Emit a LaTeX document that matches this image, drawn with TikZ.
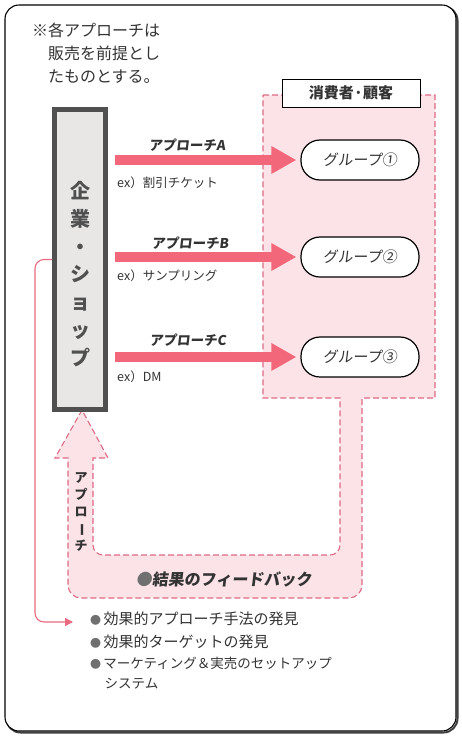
\documentclass[tikz,border=0pt]{standalone}
\usepackage{fontspec}
\usepackage{graphicx}
\setmainfont{Noto Sans CJK JP}
\newfontfamily\jpsl{Noto Sans CJK JP}[FakeSlant=0.12]
\usetikzlibrary{arrows.meta,calc}
\definecolor{arrowpink}{HTML}{F2687A}
\definecolor{bandfill}{HTML}{FBE3E7}
\definecolor{banddash}{HTML}{DE6A86}
\definecolor{thinpink}{HTML}{EA6A80}
\definecolor{cofill}{HTML}{E9E7E5}
\definecolor{coline}{HTML}{505050}
\definecolor{txt}{HTML}{333333}
\definecolor{bulletgrey}{HTML}{707070}
\newcommand{\fs}[2]{\fontsize{#1}{#2}\selectfont}
\newcommand{\vbar}{\rotatebox[origin=c]{-90}{ー}}
\begin{document}
\begin{tikzpicture}[x=1pt,y=-1pt,
  frame/.style={draw=black, line width=1.1pt, fill=white, rounded corners=14pt},
  band/.style={fill=bandfill, draw=banddash, line width=1.1pt, dash pattern=on 6pt off 3pt},
  cobox/.style={draw=coline, line width=5pt, fill=cofill, minimum width=51pt, minimum height=300pt, inner sep=0pt},
  pill/.style={draw=black, line width=1.2pt, fill=white, rounded corners=19pt, minimum width=118pt, minimum height=40pt, inner sep=0pt, font=\jpsl\fs{15}{18}, text=txt},
  titlebox/.style={draw=black, line width=1pt, fill=white, minimum width=138pt, minimum height=28pt, inner sep=0pt, font=\bfseries\fs{15}{18}, text=txt},
  bigarrow/.style={line width=10pt, draw=arrowpink, -{Triangle[length=25pt,width=26pt]}},
  alabel/.style={font=\jpsl\bfseries\fs{13.5}{16}, text=txt, inner sep=0pt},
  exlabel/.style={font=\fs{12.5}{15}, text=txt, inner sep=0pt, anchor=west},
  listline/.style={text=txt, inner sep=0pt, anchor=west},
  thinarrow/.style={draw=thinpink, line width=1.1pt, rounded corners=9pt, -{Triangle[length=8pt,width=8pt]}}
]
\useasboundingbox (0,0) rectangle (462,737);
\fill[white] (0,0) rectangle (462,737);
% outer frame with slight shadow
\draw[line width=2pt, draw=black!75, rounded corners=14pt] (6.5,6.5) rectangle (457.5,732.5);
\draw[frame] (5,5) rectangle (456,731);

% consumer area + feedback band
\path[band] (263,95) -- (435,95) -- (435,398) -- (362,398) -- (362,450)
  [rounded corners=13pt] -- (362,598) -- (68,598) -- (68,520)
  [sharp corners] -- (68,458) -- (55,458) -- (82,410) -- (108,458) -- (93,458) -- (93,500)
  [rounded corners=10pt] -- (93,555) -- (340,555) -- (340,470)
  [sharp corners] -- (340,398) -- (263,398) -- cycle;

% note
\node[anchor=north west, align=left, inner sep=0pt, font=\fs{16}{23}, text=txt] (note) at (32,23)
  {※各アプローチは\\\hspace{1em}販売を前提とし\\\hspace{1em}たものとする。};

% company box
\node[cobox] (co) at (80,259.5) {};
\node[align=center, inner sep=0pt, font=\bfseries\fs{20}{27.8}, text=coline] (cotext) at (80,274)
  {企\\業\\・\\シ\\ョ\\ッ\\プ};

% consumer title
\node[titlebox] (cons) at (351,93) {消費者·顧客};

% groups
\node[pill] (g1) at (360,160) {グループ①};
\node[pill] (g2) at (360,257) {グループ②};
\node[pill] (g3) at (360,357) {グループ③};

% approach arrows
\draw[bigarrow] ($(co.east |- g1)+(7,0)$) -- ($(g1.west)+(-4,0)$);
\draw[bigarrow] ($(co.east |- g2)+(7,0)$) -- ($(g2.west)+(-4,0)$);
\draw[bigarrow] ($(co.east |- g3)+(7,0)$) -- ($(g3.west)+(-4,0)$);

\node[alabel] (la) at (187,145) {アプローチA};
\node[exlabel] (ea) at (117,183) {ex）割引チケット};
\node[alabel] (lb) at (190,243) {アプローチB};
\node[exlabel] (eb) at (117,276) {ex）サンプリング};
\node[alabel] (lc) at (188,340) {アプローチC};
\node[exlabel] (ec) at (117,377) {ex）DM};

% feedback labels
\node[align=center, inner sep=0pt, font=\bfseries\fs{13}{17}, text=txt] (vapp) at (81,512)
  {ア\\プ\\ロ\\\vbar\\チ};
\node[inner sep=0pt, font=\jpsl\bfseries\fs{16}{19}, text=txt] (fb) at (224,579)
  {{\color{bulletgrey}●}結果のフィードバック};

% results list
\coordinate (fbend) at (73,622);
\node[listline, font=\fs{15}{18}] (r1) at (90,619) {{\color{bulletgrey}\fs{11}{18}●}\,効果的アプローチ手法の発見};
\node[listline, font=\fs{15}{18}] (r2) at (90,642) {{\color{bulletgrey}\fs{11}{18}●}\,効果的ターゲットの発見};
\node[listline, font=\fs{13.5}{18}] (r3) at (90,663) {{\color{bulletgrey}\fs{11}{18}●}\,マーケティング＆実売のセットアップ};
\node[listline, font=\fs{13.5}{18}] (r4) at (104.5,684) {システム};

\draw[thinarrow] (co.west) -- ++(-17,0) |- (fbend);
\end{tikzpicture}
\end{document}
